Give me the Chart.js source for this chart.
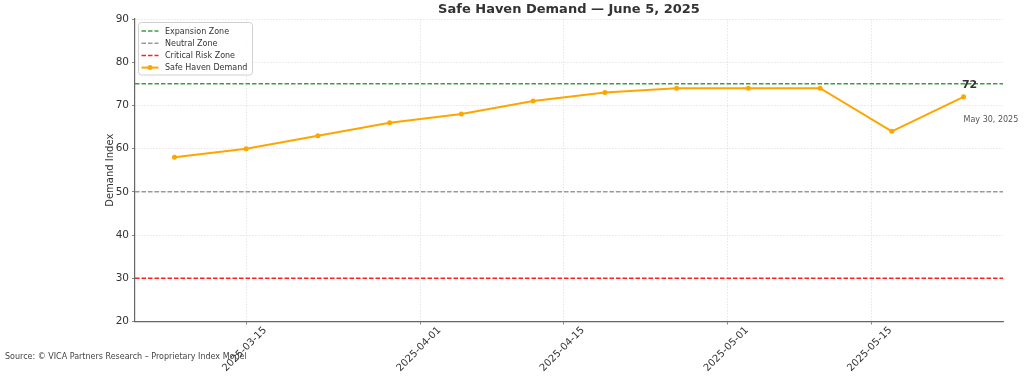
<!DOCTYPE html>
<html lang="en">
<head>
    <meta charset="UTF-8">
    <title>Safe Haven Demand</title>
    <script src="https://cdn.jsdelivr.net/npm/chart.js"></script>
    <style>
        html, body { margin: 0; padding: 0; background: #fff; }
        #wrap { width: 1024px; height: 377px; position: relative; }
    </style>
</head>
<body>
    <div id="wrap"><canvas id="demandChart"></canvas></div>

    <script>
        // Data
        const weekDates = ['2025-03-08', '2025-03-15', '2025-03-22', '2025-03-29', '2025-04-05', '2025-04-12',
                           '2025-04-19', '2025-04-26', '2025-05-03', '2025-05-10', '2025-05-17', '2025-05-24'];
        const demandValues = [58, 60, 63, 66, 68, 71, 73, 74, 74, 74, 64, 72];
        const zoneNames = ['Expansion Zone', 'Neutral Zone', 'Critical Risk Zone'];
        const zoneLevels = [75, 50, 30];
        const zoneColors = ['#3f9f3f', '#999999', '#ff2020'];
        const xTickDates = ['2025-03-15', '2025-04-01', '2025-04-15', '2025-05-01', '2025-05-15'];
        const yTicks = [20, 30, 40, 50, 60, 70, 80, 90];
        const lastDateLabel = 'May 30, 2025';
        const sourceText = 'Source: \u00a9 VICA Partners Research \u2013 Proprietary Index Model';
        const titleText = 'Safe Haven Demand \u2014 June 5, 2025';

        const FONT = "'DejaVu Sans', sans-serif";
        const dayOf = s => Date.parse(s + 'T00:00:00Z') / 86400000;
        const fmtDay = d => new Date(Math.round(d) * 86400000).toISOString().slice(0, 10);

        // matplotlib-like 5% margins on the date axis
        const first = dayOf(weekDates[0]);
        const last = dayOf(weekDates[weekDates.length - 1]);
        const margin = (last - first) * 0.05;
        const xMin = first - margin;
        const xMax = last + margin;

        const zoneSets = zoneNames.map((name, i) => ({
            label: name,
            data: [{ x: xMin, y: zoneLevels[i] }, { x: xMax, y: zoneLevels[i] }],
            borderColor: zoneColors[i],
            borderWidth: 1.5,
            borderDash: [4.5, 2],
            pointRadius: 0,
            fill: false
        }));

        const demandSet = {
            label: 'Safe Haven Demand',
            data: weekDates.map((d, i) => ({ x: dayOf(d), y: demandValues[i] })),
            borderColor: '#FFA500',
            backgroundColor: '#FFA500',
            borderWidth: 2,
            pointRadius: 2.5,
            pointBorderWidth: 0,
            pointHoverRadius: 2.5,
            tension: 0,
            fill: false
        };

        // Title, source note, legend and last-point notes
        const extras = {
            id: 'extras',
            afterDatasetsDraw(chart) {
                const ctx = chart.ctx;
                const area = chart.chartArea;
                ctx.save();

                // title
                ctx.fillStyle = '#333';
                ctx.font = 'bold 13px ' + FONT;
                ctx.textAlign = 'center';
                ctx.textBaseline = 'middle';
                ctx.fillText(titleText, (area.left + area.right) / 2, 10);

                // source note
                ctx.font = '8px ' + FONT;
                ctx.textAlign = 'left';
                ctx.fillStyle = '#444';
                ctx.fillText(sourceText, 5, 357);

                // legend box
                const bx = 138.5, by = 22.5, bw = 114, bh = 52.5;
                ctx.beginPath();
                ctx.roundRect(bx, by, bw, bh, 3);
                ctx.fillStyle = 'rgba(255,255,255,0.85)';
                ctx.fill();
                ctx.strokeStyle = '#d0d0d0';
                ctx.lineWidth = 1;
                ctx.stroke();

                ctx.font = '8px ' + FONT;
                chart.data.datasets.forEach((ds, i) => {
                    const y = 31 + i * 12.2;
                    ctx.beginPath();
                    ctx.setLineDash(ds.borderDash || []);
                    ctx.strokeStyle = ds.borderColor;
                    ctx.lineWidth = ds.borderWidth;
                    ctx.moveTo(141.5, y);
                    ctx.lineTo(158.5, y);
                    ctx.stroke();
                    ctx.setLineDash([]);
                    if (ds.pointRadius) {
                        ctx.beginPath();
                        ctx.fillStyle = ds.borderColor;
                        ctx.arc(150, y, ds.pointRadius, 0, Math.PI * 2);
                        ctx.fill();
                    }
                    ctx.fillStyle = '#333';
                    ctx.fillText(ds.label, 165, y + 0.5);
                });

                // notes at the last point
                const xs = chart.scales.x, ys = chart.scales.y;
                const lx = xs.getPixelForValue(last);
                const ly = ys.getPixelForValue(demandValues[demandValues.length - 1]);
                ctx.fillStyle = '#333';
                ctx.font = 'bold 11px ' + FONT;
                ctx.textAlign = 'center';
                ctx.fillText(String(demandValues[demandValues.length - 1]), lx + 6, ly - 12);
                ctx.font = '8px ' + FONT;
                ctx.textAlign = 'left';
                ctx.fillStyle = '#555';
                ctx.fillText(lastDateLabel, lx, ly + 23);

                ctx.restore();
            }
        };

        Chart.defaults.font.family = FONT;

        new Chart(document.getElementById('demandChart'), {
            type: 'line',
            data: { datasets: [...zoneSets, demandSet] },
            options: {
                responsive: true,
                maintainAspectRatio: false,
                animation: false,
                events: [],
                layout: { padding: { left: 100, right: 21, top: 19, bottom: 0 } },
                plugins: {
                    legend: { display: false },
                    title: { display: false },
                    tooltip: { enabled: false }
                },
                scales: {
                    x: {
                        type: 'linear',
                        min: xMin,
                        max: xMax,
                        afterBuildTicks: scale => {
                            scale.ticks = xTickDates.map(d => ({ value: dayOf(d) }));
                        },
                        afterFit: scale => { scale.height = 55.5; },
                        ticks: {
                            callback: v => fmtDay(v),
                            minRotation: 45,
                            maxRotation: 45,
                            labelOffset: 19,
                            padding: 0,
                            color: '#333',
                            font: { size: 10 }
                        },
                        grid: {
                            color: '#e0e0e0',
                            lineWidth: 0.8,
                            tickColor: '#666',
                            tickLength: 3
                        },
                        border: { display: true, color: '#666', width: 1.2, dash: [1.5, 1.5] }
                    },
                    y: {
                        min: 20,
                        max: 90,
                        afterBuildTicks: scale => {
                            scale.ticks = yTicks.map(v => ({ value: v }));
                        },
                        afterFit: scale => { scale.width = 35; },
                        title: {
                            display: true,
                            text: 'Demand Index',
                            color: '#333',
                            font: { size: 10 },
                            padding: { top: 4, bottom: 2 }
                        },
                        ticks: {
                            color: '#333',
                            font: { size: 10.5 },
                            padding: 3
                        },
                        grid: {
                            color: '#e0e0e0',
                            lineWidth: 0.8,
                            tickColor: '#666',
                            tickLength: 3
                        },
                        border: { display: true, color: '#666', width: 1.2, dash: [1.5, 1.5] }
                    }
                }
            },
            plugins: [extras]
        });
    </script>
</body>
</html>
